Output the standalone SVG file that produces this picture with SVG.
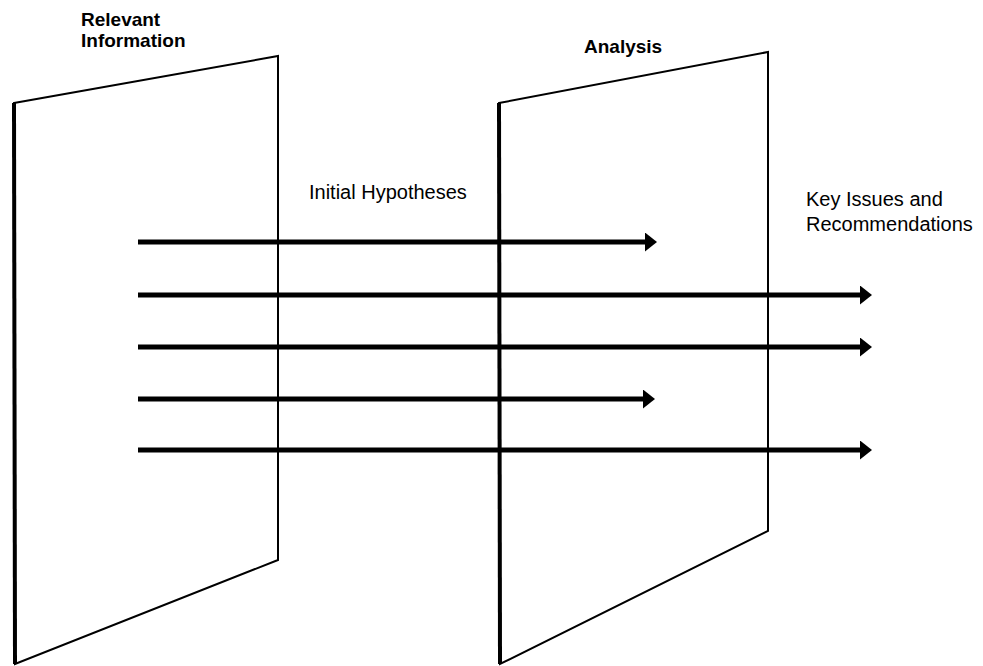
<svg xmlns="http://www.w3.org/2000/svg" width="983" height="666" viewBox="0 0 983 666">
<style>
.panel{fill:none;stroke:#000;stroke-width:2;stroke-linejoin:miter}
.edge{stroke:#000;stroke-width:4}
.arrow{stroke:#000;stroke-width:5;fill:none}
.lbl{font-family:"Liberation Sans",Arial,sans-serif;font-size:20px;fill:#000}
.bold{font-weight:bold;font-size:19px}
</style>
<defs>
<marker id="ah" viewBox="0 0 12 19" refX="0" refY="9.5" markerWidth="12" markerHeight="19" markerUnits="userSpaceOnUse" orient="auto">
<path d="M0,0 L12,9.5 L0,19 z" fill="#000"/>
</marker>
</defs>
<rect width="983" height="666" fill="#fff"/>
<g id="relevant-information">
<polygon class="panel" points="14,103 278,56 278,560 15,664"/>
<line class="edge" x1="14" y1="103" x2="15" y2="664"/>
<text class="lbl bold" x="81" y="26">Relevant</text>
<text class="lbl bold" x="81" y="47">Information</text>
</g>
<g id="analysis">
<polygon class="panel" points="499,103 768,52 768,531 500,664"/>
<line class="edge" x1="499" y1="103" x2="500" y2="664"/>
<text class="lbl bold" x="584" y="53">Analysis</text>
</g>
<g id="labels">
<text class="lbl" x="309" y="199">Initial Hypotheses</text>
<text class="lbl" x="806" y="206">Key Issues and</text>
<text class="lbl" x="806" y="231">Recommendations</text>
</g>
<g id="connectors">
<line class="arrow" x1="138" y1="242" x2="645" y2="242" marker-end="url(#ah)"/>
<line class="arrow" x1="138" y1="295" x2="860" y2="295" marker-end="url(#ah)"/>
<line class="arrow" x1="138" y1="347" x2="860" y2="347" marker-end="url(#ah)"/>
<line class="arrow" x1="138" y1="399" x2="643" y2="399" marker-end="url(#ah)"/>
<line class="arrow" x1="138" y1="450" x2="860" y2="450" marker-end="url(#ah)"/>
</g>
</svg>
